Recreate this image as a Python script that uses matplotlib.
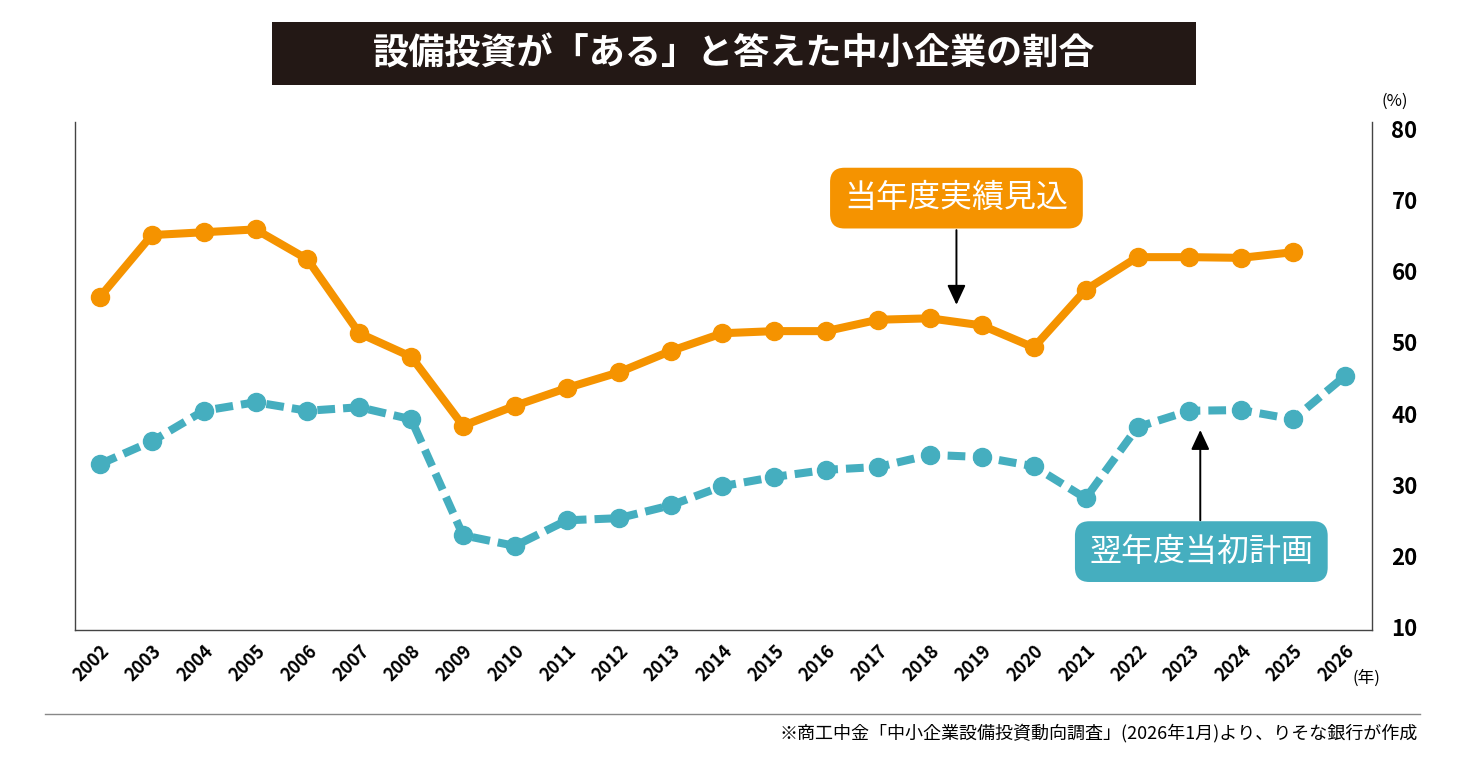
import matplotlib.pyplot as plt
from matplotlib.patches import Rectangle
from matplotlib.lines import Line2D

plt.rcParams['font.family'] = ['Noto Sans CJK JP', 'DejaVu Sans']

years = list(range(2002, 2027))
# 当年度実績見込 (2002-2025)
actual = [56.4, 65.1, 65.5, 65.9, 61.7, 51.3, 48.0, 38.3, 41.1, 43.6, 45.8, 48.8,
          51.3, 51.6, 51.6, 53.2, 53.4, 52.4, 49.3, 57.4, 62.0, 62.0, 61.9, 62.7]
# 翌年度当初計画 (2002-2026)
plan = [32.9, 36.1, 40.4, 41.6, 40.4, 40.9, 39.2, 22.9, 21.4, 25.0, 25.3, 27.1,
        29.8, 31.1, 32.1, 32.5, 34.2, 33.9, 32.6, 28.1, 38.1, 40.4, 40.5, 39.2, 45.3]
yticks = [10, 20, 30, 40, 50, 60, 70, 80]

orange = '#F59300'
teal = '#45AEBF'

fig = plt.figure(figsize=(14.68, 7.6), dpi=100)
ax = fig.add_axes([75/1468, 130/760, (1372-75)/1468, (630-122)/760])

ax.plot(years[:len(actual)], actual, color=orange, lw=5.8, marker='o', ms=13,
        solid_joinstyle='round', zorder=3)
ax.plot(years, plan, color=teal, lw=5.8, marker='o', ms=13, dashes=(2.2, 1.0),
        zorder=3)

ax.set_xlim(2001.52, 2026.52)
ax.set_ylim(9.58, 81.0)
ax.set_xticks(years)
ax.set_xticklabels([str(y) for y in years], rotation=45, ha='right',
                   rotation_mode='anchor', fontsize=13, fontweight='bold')
ax.set_yticks(yticks)
ax.yaxis.tick_right()
ax.set_yticklabels([str(v) for v in yticks], fontsize=16, fontweight='bold')
ax.tick_params(axis='both', length=0)
ax.tick_params(axis='y', pad=14)
ax.tick_params(axis='x', pad=8)
ax.spines['top'].set_visible(False)
for s in ['left', 'right', 'bottom']:
    ax.spines[s].set_color('#444444')
    ax.spines[s].set_linewidth(1.0)

# callouts
arrow = dict(arrowstyle='-|>,head_width=0.28,head_length=0.6', color='black',
             lw=1.4, mutation_scale=20, shrinkA=0, shrinkB=0)
ax.annotate('', xy=(2018.51, 55.3), xytext=(2018.51, 65.8), arrowprops=arrow)
ax.text(2018.51, 70.3, '当年度実績見込', color='white', fontsize=23, ha='center', va='center',
        bbox=dict(boxstyle='round,pad=0.45,rounding_size=0.45', fc=orange, ec='none'))
ax.annotate('', xy=(2023.21, 37.7), xytext=(2023.21, 25.0), arrowprops=arrow)
ax.text(2023.23, 20.6, '翌年度当初計画', color='white', fontsize=23, ha='center', va='center',
        bbox=dict(boxstyle='round,pad=0.45,rounding_size=0.45', fc=teal, ec='none'))

# unit labels
fig.text(1395/1468, 1-101/760, '(%)', fontsize=12, ha='center', va='center')
fig.text(1366/1468, 1-678/760, '(年)', fontsize=12, ha='center', va='center')

# title
fig.patches.append(Rectangle((272/1468, 1-85/760), 924/1468, 63/760,
                             transform=fig.transFigure, fc='#231815', ec='none'))
fig.text(734/1468, 1-54/760, '設備投資が「ある」と答えた中小企業の割合', color='white',
         fontsize=26, fontweight='bold', ha='center', va='center')

# footer
fig.lines.append(Line2D([45/1468, 1420/1468], [1-714/760, 1-714/760],
                        transform=fig.transFigure, color='#888888', lw=1.0))
fig.text(1418/1468, 1-733/760, '※商工中金「中小企業設備投資動向調査」(2026年1月)より、りそな銀行が作成',
         fontsize=13, ha='right', va='center')

fig.savefig('out.png', dpi=100)
